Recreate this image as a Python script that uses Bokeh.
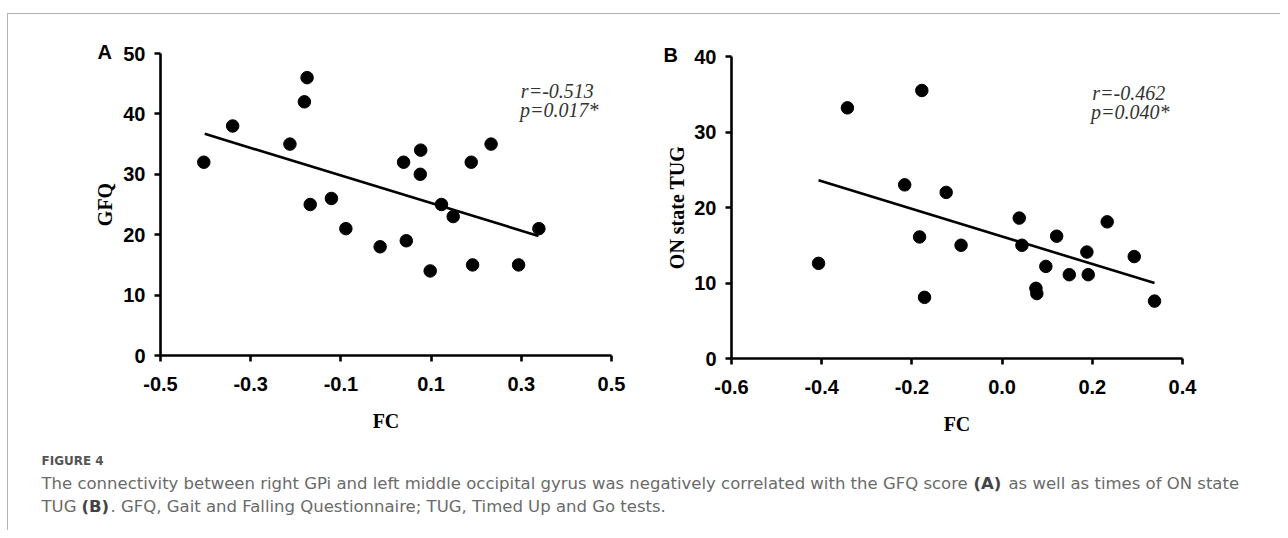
from bokeh.plotting import figure
from bokeh.models import Range1d, FixedTicker, Label, PrintfTickFormatter
from bokeh.layouts import column, row
from bokeh.embed import file_html
from bokeh.resources import INLINE

# ---- data ----
a_fc = [-0.404, -0.340, -0.213, -0.181, -0.175, -0.168, -0.121, -0.089, -0.013, 0.039,
        0.045, 0.077, 0.076, 0.098, 0.123, 0.149, 0.189, 0.192, 0.233, 0.294, 0.339]
a_gfq = [32, 38, 35, 42, 46, 25, 26, 21, 18, 32, 19, 34, 30, 14, 25, 23, 32, 15, 35, 15, 21]
a_fit_x = [-0.402, 0.338]
a_fit_y = [36.7, 19.8]

b_fc = [-0.407, -0.343, -0.178, -0.216, -0.183, -0.172, -0.124, -0.091, 0.038, 0.044,
        0.075, 0.077, 0.097, 0.121, 0.149, 0.188, 0.191, 0.233, 0.293, 0.338]
b_tug = [12.6, 33.2, 35.5, 23.0, 16.1, 8.1, 22.0, 15.0, 18.6, 15.0,
         9.3, 8.6, 12.2, 16.2, 11.1, 14.1, 11.1, 18.1, 13.5, 7.6]
b_fit_x = [-0.407, 0.338]
b_fit_y = [23.6, 10.0]

a_xticks = [-0.5, -0.3, -0.1, 0.1, 0.3, 0.5]
a_yticks = [0, 10, 20, 30, 40, 50]
b_xticks = [-0.6, -0.4, -0.2, 0.0, 0.2, 0.4]
b_yticks = [0, 10, 20, 30, 40]

a_stats = ["r=-0.513", "p=0.017*"]
b_stats = ["r=-0.462", "p=0.040*"]

caption_head = "FIGURE 4"
cap1 = ["The connectivity between right GPi and left middle occipital gyrus was negatively correlated with the GFQ score",
        "(A)", "as well as times of ON state"]
cap2 = ["TUG", "(B)", ". GFQ, Gait and Falling Questionnaire; TUG, Timed Up and Go tests."]

TICK_FONT = "Liberation Sans"
SERIF = "Liberation Serif"


def panel(width, height, bl, br, bt, bb, xr, yr, xt, yt, ylabel, letter, letter_off,
          stats, stats_pos, xs, ys, fx, fy, ylab_standoff):
    p = figure(width=width, height=height, x_range=Range1d(*xr), y_range=Range1d(*yr),
               output_backend="svg", toolbar_location=None, title=letter,
               min_border_left=bl, min_border_right=br, min_border_top=bt, min_border_bottom=bb)
    p.title.align = "left"
    p.title.offset = letter_off
    p.title.standoff = -19
    p.title.text_font = TICK_FONT
    p.title.text_font_style = "bold"
    p.title.text_font_size = "20px"
    p.title.text_color = "black"
    p.grid.visible = False
    p.outline_line_color = None
    p.background_fill_color = "white"
    p.border_fill_color = "white"
    p.xaxis.ticker = FixedTicker(ticks=xt)
    p.yaxis.ticker = FixedTicker(ticks=yt)
    p.xaxis.formatter = PrintfTickFormatter(format="%.1f")
    p.yaxis.formatter = PrintfTickFormatter(format="%d")
    for ax in (p.xaxis[0], p.yaxis[0]):
        ax.axis_line_width = 2.6
        ax.axis_line_color = "black"
        ax.major_tick_line_width = 2.6
        ax.major_tick_line_color = "black"
        ax.major_tick_in = 0
        ax.major_tick_out = 6
        ax.minor_tick_line_color = None
        ax.major_label_text_font = TICK_FONT
        ax.major_label_text_font_style = "bold"
        ax.major_label_text_font_size = "20px"
        ax.major_label_text_color = "black"
        ax.axis_label_text_font = SERIF
        ax.axis_label_text_font_style = "bold"
        ax.axis_label_text_font_size = "20px"
        ax.axis_label_text_color = "black"
    p.xaxis.major_label_standoff = 15
    p.yaxis.major_label_standoff = 9
    p.xaxis.axis_label = "FC"
    p.xaxis.axis_label_standoff = 16
    p.yaxis.axis_label = ylabel
    p.yaxis.axis_label_standoff = ylab_standoff

    p.scatter(xs, ys, size=12.5, color="black")
    p.line(fx, fy, line_width=2.6, color="black")

    for t, (sx, sy) in zip(stats, stats_pos):
        p.add_layout(Label(x=sx, y=sy, text=t, text_font=SERIF, text_font_style="italic",
                           text_font_size="20px", text_color="#333333",
                           text_baseline="middle", text_align="left"))
    return p


figA = panel(640, 430, 152, 37, 39, 89, (-0.5, 0.5), (0, 50), a_xticks, a_yticks,
             "GFQ", "A", -63, a_stats, [(0.299, 43.8), (0.297, 40.7)],
             a_fc, a_gfq, a_fit_x, a_fit_y, 4)
figB = panel(632, 430, 83, 98, 42, 86, (-0.6, 0.4), (0, 40), b_xticks, b_yticks,
             "ON state TUG", "B", -68, b_stats, [(0.200, 35.2), (0.197, 32.7)],
             b_fc, b_tug, b_fit_x, b_fit_y, 3)

CAP_H = 86
cap = figure(width=1272, height=CAP_H, x_range=Range1d(0, 1272), y_range=Range1d(CAP_H, 0),
             output_backend="svg", toolbar_location=None, min_border=0,
             x_axis_location=None, y_axis_location=None)
cap.grid.visible = False
cap.outline_line_color = None

CX = 33
CFONT = "DejaVu Sans"
CFS = "16.5px"
CCOL = "#6a6a6a"
BCOL = "#444444"
cap.add_layout(Label(x=CX, y=16, text=caption_head, text_font=CFONT, text_font_style="bold",
                     text_font_size="12px", text_color="#555555", text_baseline="alphabetic"))
# line 1
cap.add_layout(Label(x=CX, y=39, text=cap1[0], text_font=CFONT, text_font_size=CFS,
                     text_color=CCOL, text_baseline="alphabetic"))
cap.add_layout(Label(x=CX + 932, y=39, text=cap1[1], text_font=CFONT, text_font_style="bold",
                     text_font_size=CFS, text_color=BCOL, text_baseline="alphabetic"))
cap.add_layout(Label(x=CX + 967, y=39, text=cap1[2], text_font=CFONT, text_font_size=CFS,
                     text_color=CCOL, text_baseline="alphabetic"))
# line 2
cap.add_layout(Label(x=CX, y=62, text=cap2[0], text_font=CFONT, text_font_size=CFS,
                     text_color=CCOL, text_baseline="alphabetic"))
cap.add_layout(Label(x=CX + 40, y=62, text=cap2[1], text_font=CFONT, text_font_style="bold",
                     text_font_size=CFS, text_color=BCOL, text_baseline="alphabetic"))
cap.add_layout(Label(x=CX + 69, y=62, text=cap2[2], text_font=CFONT, text_font_size=CFS,
                     text_color=CCOL, text_baseline="alphabetic"))

layout = column(row(column(figA), column(figB)), cap,
                styles={"border-top": "1px solid #b3b3b3", "border-left": "1px solid #b3b3b3",
                        "margin-top": "13px", "margin-left": "7px"})

open("out.html", "w").write(file_html(layout, INLINE))
